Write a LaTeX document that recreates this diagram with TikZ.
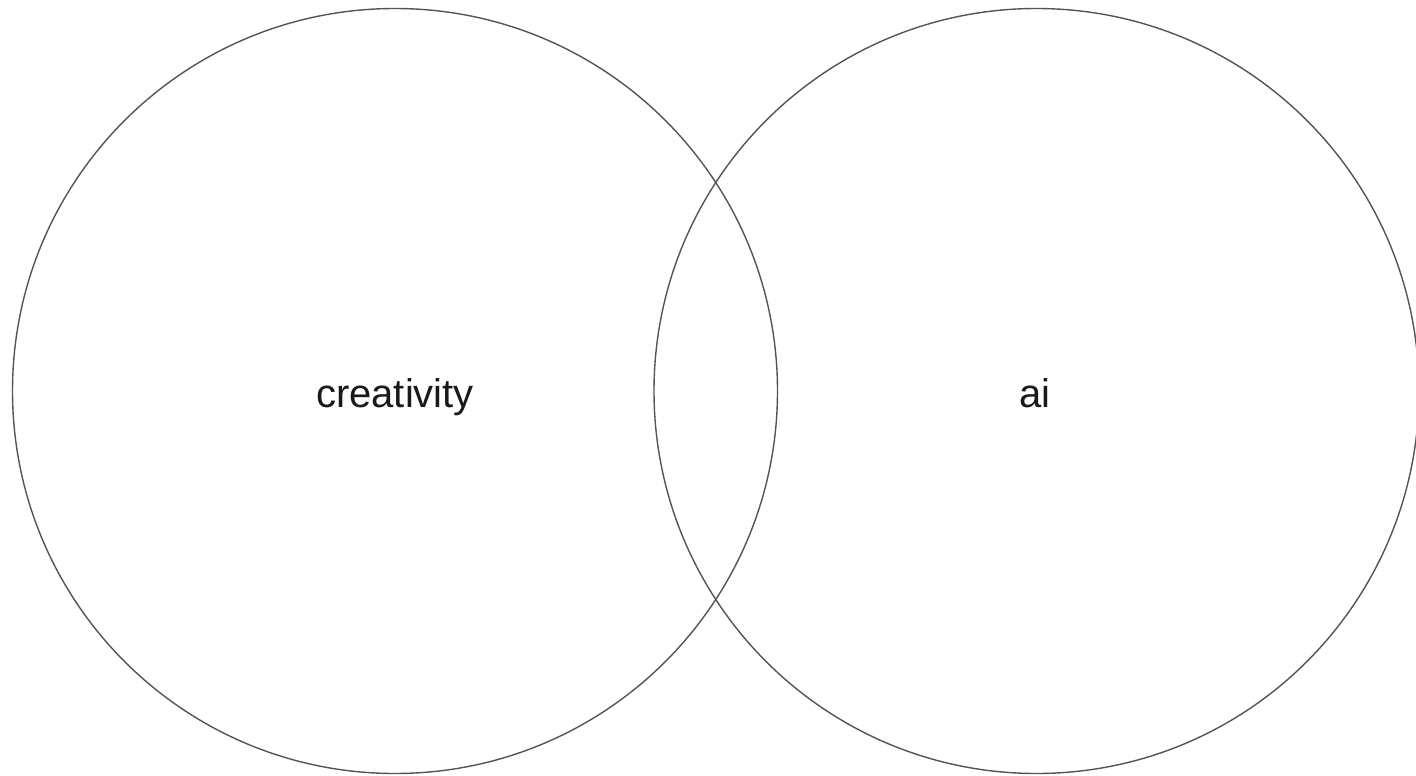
\documentclass[tikz,border=0pt]{standalone}
\usepackage{fontspec}
\setmainfont{Liberation Sans}
\begin{document}
\begin{tikzpicture}[x=1pt,y=-1pt,
  venn/.style={draw=black!67,line width=1.4pt},
  lbl/.style={font=\fontsize{40}{46}\selectfont,text=black!90,inner sep=0pt,anchor=base}]
\useasboundingbox (0,0) rectangle (1416,776);
\begin{scope}
\clip (0,0) rectangle (1416,776);
\node[venn,circle,minimum size=765pt,inner sep=0pt] (left) at (395,391) {};
\node[venn,circle,minimum size=765pt,inner sep=0pt] (right) at (1036.5,391) {};
\end{scope}
\node[lbl] (t1) at (395,407) {creativity};
\node[lbl] (t2) at (1035,407) {ai};
\end{tikzpicture}
\end{document}
